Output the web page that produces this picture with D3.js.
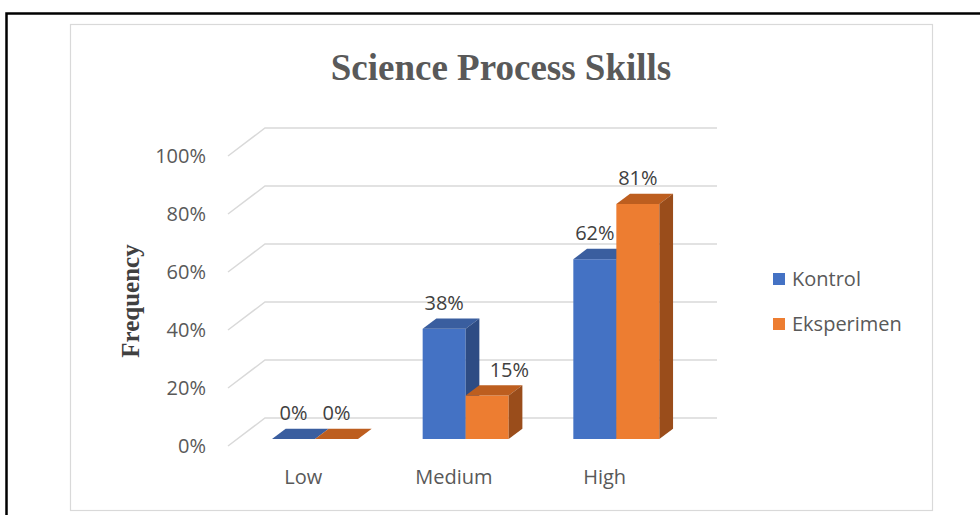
<!DOCTYPE html>
<html>
<head>
<meta charset="utf-8">
<script src="https://cdn.jsdelivr.net/npm/d3@7"></script>
<style>
  html, body { margin: 0; padding: 0; background: #fff; }
  svg { display: block; }
</style>
</head>
<body>
<svg id="chart" width="980" height="515"></svg>
<script>
// Chart data
const categories = ["Low", "Medium", "High"];
const seriesNames = ["Kontrol", "Eksperimen"];
const kontrolValues = [0, 0.38, 0.62];
const eksperimenValues = [0, 0.15, 0.81];
const yTicks = [0, 0.2, 0.4, 0.6, 0.8, 1.0];
const chartTitle = "Science Process Skills";
const yAxisTitle = "Frequency";

const seriesValues = [kontrolValues, eksperimenValues];
const colors = [
  { front: "#4472C4", top: "#3A5E9F", side: "#2E4C84" },
  { front: "#ED7D31", top: "#BD5E1F", side: "#9A4D1B" }
];

const svg = d3.select("#chart");
const font = "'Open Sans', 'Noto Sans', sans-serif";
const textColor = "#595959";
const fs = 20;

// Page frame and chart area border
svg.append("path")
  .attr("d", "M6.5,990 L6.5,13.5 L990,13.5")
  .attr("fill", "none").attr("stroke", "#000").attr("stroke-width", 2.5);
svg.append("rect")
  .attr("x", 70.5).attr("y", 24.5).attr("width", 862).attr("height", 486)
  .attr("fill", "#fff").attr("stroke", "#d9d9d9").attr("stroke-width", 1.2);

// 3D projection of the plot box: front-left floor corner plus a depth vector
const X0 = 228, Y0 = 446, DX = 37, DY = -28;
const floorWidth = 452;
const x = d3.scaleBand().domain(categories).range([0, floorWidth]);
const y = d3.scaleLinear().domain([0, 1]).range([0, 290]);
const groupStart = x.bandwidth() * 0.2306;
const groupWidth = x.bandwidth() * 0.571;
const xs = d3.scaleBand().domain(seriesNames).range([groupStart, groupStart + groupWidth]);
const tFront = 0.25, tBack = 0.62;

const P = (px, v, t) => [X0 + px + t * DX, Y0 - y(v) + t * DY];
const poly = pts => "M" + pts.map(p => p.join(",")).join("L") + "Z";

// Gridlines: side wall diagonals and back wall lines
const grid = svg.append("g");
yTicks.forEach(v => {
  const a = P(0, v, 0), b = P(0, v, 1), c = P(floorWidth, v, 1);
  grid.append("path")
    .attr("d", `M${a}L${b}L${c}`)
    .attr("fill", "none").attr("stroke", "#d9d9d9").attr("stroke-width", 1.5);
});

// Y tick labels at the front edge
svg.append("g").selectAll("text").data(yTicks).join("text")
  .attr("x", X0 - 22)
  .attr("y", d => P(0, d, 0)[1])
  .attr("dy", "0.35em")
  .attr("text-anchor", "end")
  .attr("font-family", font).attr("font-size", fs)
  .attr("fill", textColor)
  .text(d => d3.format(".0%")(d));

// Category labels under the front floor edge
svg.append("g").selectAll("text").data(categories).join("text")
  .attr("x", d => X0 + x(d) + x.bandwidth() / 2)
  .attr("y", 477)
  .attr("dy", "0.35em")
  .attr("text-anchor", "middle")
  .attr("font-family", font).attr("font-size", fs)
  .attr("fill", textColor)
  .text(d => d);

// 3D columns
const bars = svg.append("g");
const labels = [];
categories.forEach((cat, ci) => {
  seriesNames.forEach((s, si) => {
    const v = seriesValues[si][ci];
    const x1 = x(cat) + xs(s), x2 = x1 + xs.bandwidth();
    const c = colors[si];
    const fBL = P(x1, 0, tFront), fBR = P(x2, 0, tFront);
    const fTL = P(x1, v, tFront), fTR = P(x2, v, tFront);
    const bTL = P(x1, v, tBack), bTR = P(x2, v, tBack), bBR = P(x2, 0, tBack);
    bars.append("path").attr("d", poly([fBL, fBR, fTR, fTL])).attr("fill", c.front);
    bars.append("path").attr("d", poly([fTL, fTR, bTR, bTL])).attr("fill", c.top);
    bars.append("path").attr("d", poly([fBR, bBR, bTR, fTR])).attr("fill", c.side);
    labels.push({ v, cx: (fTL[0] + fTR[0]) / 2, top: fTL[1], x1: fTL[0], si, ci });
  });
});

// Data labels; a short column's label moves right when it would sit on its taller neighbour
const labelG = svg.append("g");
labels.forEach(d => {
  let cx = d.cx;
  if (d.si === 1) {
    const prev = labels.find(o => o.ci === d.ci && o.si === 0);
    if (prev.v - d.v > 0.1) {
      const neighbourRight = d.x1 + (tBack - tFront) * DX;
      cx = Math.max(cx, neighbourRight + 11 + 19);
    }
  }
  labelG.append("text")
    .attr("x", cx).attr("y", d.top - 26)
    .attr("dy", "0.35em")
    .attr("text-anchor", "middle")
    .attr("font-family", font).attr("font-size", fs)
    .attr("fill", "#404040")
    .text(d3.format(".0%")(d.v));
});

// Title
svg.append("text")
  .attr("x", 501).attr("y", 80)
  .attr("text-anchor", "middle")
  .attr("font-family", "'Liberation Serif', 'Times New Roman', serif")
  .attr("font-weight", "bold").attr("font-size", 37)
  .attr("fill", textColor)
  .text(chartTitle);

// Y axis title
svg.append("text")
  .attr("transform", "translate(130,301) rotate(-90)")
  .attr("dy", "0.35em")
  .attr("text-anchor", "middle")
  .attr("font-family", "'Liberation Serif', 'Times New Roman', serif")
  .attr("font-weight", "bold").attr("font-size", 25)
  .attr("fill", "#404040")
  .text(yAxisTitle);

// Legend
const legend = svg.append("g").attr("transform", "translate(773,279)");
seriesNames.forEach((s, i) => {
  const g = legend.append("g").attr("transform", `translate(0,${i * 45})`);
  g.append("rect").attr("x", 0).attr("y", -6).attr("width", 12).attr("height", 12)
    .attr("fill", colors[i].front);
  g.append("text").attr("x", 19).attr("y", 0).attr("dy", "0.35em")
    .attr("font-family", font).attr("font-size", fs)
    .attr("fill", textColor).text(s);
});
</script>
</body>
</html>
